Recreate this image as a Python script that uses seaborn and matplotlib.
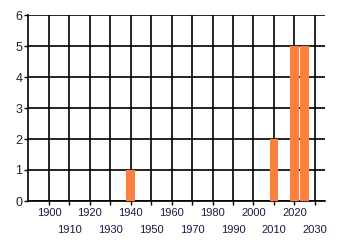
import matplotlib
matplotlib.use("Agg")
import matplotlib.pyplot as plt
from matplotlib.ticker import FixedLocator, FixedFormatter
import seaborn as sns
import pandas as pd

years = [1940, 2010, 2020, 2025]
counts = [1, 2, 5, 5]
xtick_values = list(range(1900, 2031, 10))
ytick_values = [0, 1, 2, 3, 4, 5, 6]

sns.set_style("white")
plt.rcParams['font.family'] = ['Liberation Sans', 'DejaVu Sans']

fig = plt.figure(figsize=(3.4, 2.45), dpi=100)
ax = fig.add_axes([28/340, 1-201/245, (325-28)/340, (201-15)/245])

df = pd.DataFrame({"year": years, "count": counts})
sns.barplot(data=df, x="year", y="count", native_scale=True, width=0.85,
            color="#FF7F3F", saturation=1, ax=ax, linewidth=0, edgecolor="none",
            zorder=3)

ax.set_xlim(1889.7, 2035)
ax.set_ylim(0, 6)
upper = xtick_values[0::2]
lower = xtick_values[1::2]
ax.xaxis.set_major_locator(FixedLocator(upper))
ax.xaxis.set_major_formatter(FixedFormatter([str(v) for v in upper]))
ax.xaxis.set_minor_locator(FixedLocator(lower))
ax.xaxis.set_minor_formatter(FixedFormatter([str(v) for v in lower]))
ax.set_yticks(ytick_values)
ax.set_yticklabels([str(v) for v in ytick_values], fontsize=9, color="#222222")
ax.set_xlabel("")
ax.set_ylabel("")
ax.grid(True, which="both", axis="x", color="black", linewidth=1.2, zorder=0)
ax.grid(True, which="major", axis="y", color="black", linewidth=1.2, zorder=0)
ax.set_axisbelow(True)
for s in ["top", "right"]:
    ax.spines[s].set_visible(False)
for s in ["left", "bottom"]:
    ax.spines[s].set_color("black")
    ax.spines[s].set_linewidth(1.2)
ax.tick_params(axis="x", which="major", length=3, width=1, color="black", pad=2,
               bottom=True, labelsize=8, labelcolor="#1a1a40")
ax.tick_params(axis="x", which="minor", length=3, width=1, color="black", pad=14,
               bottom=True, labelsize=8, labelcolor="#1a1a40")
ax.tick_params(axis="y", length=3, width=1, color="black", pad=1, left=True)

fig.savefig("out.png", dpi=100)
